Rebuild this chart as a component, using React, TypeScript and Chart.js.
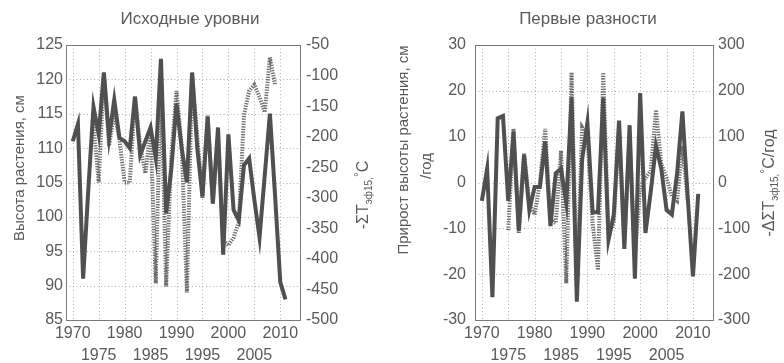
import React, { useEffect, useRef } from 'react';
import { Chart, registerables } from 'chart.js';

Chart.register(...registerables);

// ---- Data ----
const years = [
  1970, 1971, 1972, 1973, 1974, 1975, 1976, 1977, 1978, 1979,
  1980, 1981, 1982, 1983, 1984, 1985, 1986, 1987, 1988, 1989,
  1990, 1991, 1992, 1993, 1994, 1995, 1996, 1997, 1998, 1999,
  2000, 2001, 2002, 2003, 2004, 2005, 2006, 2007, 2008, 2009,
  2010, 2011,
];

// Исходные уровни: высота растения, см
const plantHeight = [
  111, 113.5, 91, 104, 116, 112, 121, 111.5, 117, 111.5,
  111, 110, 117.5, 109, 111, 113, 108.5, 123, 100.5, 107,
  116.5, 110, 105, 121, 110, 103, 114.5, 102, 113, 94.5,
  112, 101, 99.5, 107.5, 108.5, 102.5, 97, 106, 115, 103,
  90.5, 88,
];

// Исходные уровни: -ΣTэф15, °C
const sumTemp = [
  null, null, null, null, -180, -275, -96, -215, -160, -205,
  -275, -275, -135, -215, -260, -190, -440, -100, -445, -230,
  -125, -215, -455, -95, -200, -300, -165, -310, -200, -370,
  -378, -365, -340, -165, -125, -115, -135, -160, -70, -115,
  null, null,
];

// Первые разности: прирост высоты растения, см/год
const heightDiff = [
  -4, 3, -25, 14, 14.5, -4, 11, -10.5, 6, -6,
  -1, -1, 9, -9.5, 2, 3, -4.5, 18.5, -26, 5,
  13, -6.5, -6.5, 18.5, -12.5, -7, 13.5, -14.5, 12.5, -21,
  19.5, -11, -2, 8, 3, -6, -7, 2, 15.5, -3,
  -20.5, -2.5,
];

// Первые разности: -ΔΣTэф15, °C/год
const tempDiff = [
  null, null, null, null, null, -104, 117, -110, 64, -45,
  -70, 0, 117, -80, -89, 69, -220, 240, -230, 120,
  100, -90, -191, 240, -110, -90, 120, -130, 100, -160,
  -10, 10, 25, 158, 40, 10, -30, -40, 80, -40,
  null, null,
];

const xTickValues = [1970, 1975, 1980, 1985, 1990, 1995, 2000, 2005, 2010];
const leftTicksA = { min: 85, max: 125, step: 5 };
const rightTicksA = { min: -500, max: -50, step: 50 };
const leftTicksB = { min: -30, max: 30, step: 10 };
const rightTicksB = { min: -300, max: 300, step: 100 };

const TEXT = '#5a5a5a';
const FONT = '"Liberation Sans", Arial, sans-serif';

type Part = { t: string; size: number; dy?: number };

function drawRotated(ctx: CanvasRenderingContext2D, x: number, y: number, parts: Part[]) {
  ctx.save();
  ctx.translate(x, y);
  ctx.rotate(-Math.PI / 2);
  let total = 0;
  for (const p of parts) {
    ctx.font = `${p.size}px ${FONT}`;
    total += ctx.measureText(p.t).width;
  }
  let cx = -total / 2;
  ctx.textAlign = 'left';
  ctx.textBaseline = 'middle';
  for (const p of parts) {
    ctx.font = `${p.size}px ${FONT}`;
    ctx.fillText(p.t, cx, p.dy || 0);
    cx += ctx.measureText(p.t).width;
  }
  ctx.restore();
}

const decorPlugin = {
  id: 'decor',
  beforeDatasetsDraw(chart: any) {
    const { ctx, chartArea: a, scales } = chart;
    ctx.save();
    ctx.strokeStyle = '#b0b0b0';
    ctx.lineWidth = 1;
    ctx.setLineDash([1, 2.5]);
    for (const t of scales.x.ticks) {
      const px = Math.round(scales.x.getPixelForValue(t.value)) + 0.5;
      ctx.beginPath();
      ctx.moveTo(px, a.top);
      ctx.lineTo(px, a.bottom);
      ctx.stroke();
    }
    for (const t of scales.y.ticks) {
      const py = Math.round(scales.y.getPixelForValue(t.value)) + 0.5;
      ctx.beginPath();
      ctx.moveTo(a.left, py);
      ctx.lineTo(a.right, py);
      ctx.stroke();
    }
    ctx.restore();
  },
  afterDraw(chart: any, _args: any, opts: any) {
    const { ctx, chartArea: a } = chart;
    ctx.save();
    ctx.strokeStyle = '#7a7a7a';
    ctx.lineWidth = 1;
    ctx.strokeRect(Math.round(a.left) + 0.5, Math.round(a.top) + 0.5, Math.round(a.right - a.left), Math.round(a.bottom - a.top));
    ctx.fillStyle = TEXT;
    ctx.font = `17px ${FONT}`;
    ctx.textAlign = 'center';
    ctx.textBaseline = 'middle';
    ctx.fillText(opts.title, opts.titleX, opts.titleY);
    for (const r of opts.rotated) {
      drawRotated(ctx, r.x, r.y, r.parts);
    }
    ctx.restore();
  },
};

function makeConfig(
  solid: (number | null)[],
  dotted: (number | null)[],
  lt: { min: number; max: number; step: number },
  rt: { min: number; max: number; step: number },
  leftW: number,
  rightW: number,
  leftPad: number,
  rightPad: number,
  decor: any,
) {
  const tickFont = { family: FONT, size: 16 };
  return {
    type: 'line',
    data: {
      datasets: [
        {
          data: years.map((y, i) => ({ x: y, y: solid[i] })),
          borderColor: '#505050',
          borderWidth: 4,
          pointRadius: 0,
          tension: 0,
          yAxisID: 'y',
          spanGaps: false,
        },
        {
          data: years.map((y, i) => ({ x: y, y: dotted[i] })),
          borderColor: '#6e6e6e',
          borderWidth: 4,
          borderDash: [1.3, 1.3],
          pointRadius: 0,
          tension: 0,
          yAxisID: 'y2',
          spanGaps: false,
        },
      ],
    },
    options: {
      animation: false,
      responsive: false,
      maintainAspectRatio: false,
      layout: { padding: { top: 45, left: 0, right: 0, bottom: 0 } },
      plugins: {
        legend: { display: false },
        tooltip: { enabled: false },
        title: { display: false },
        decor,
      },
      scales: {
        x: {
          type: 'linear',
          min: 1968.7,
          max: 2013.8,
          afterBuildTicks: (s: any) => {
            s.ticks = xTickValues.map((v) => ({ value: v }));
          },
          afterFit: (s: any) => {
            s.height = 43;
          },
          ticks: {
            autoSkip: false,
            maxRotation: 0,
            minRotation: 0,
            padding: 2,
            color: TEXT,
            font: { ...tickFont, lineHeight: 1.4 },
            callback: (v: number) => (v % 10 === 0 ? String(v) : ['', String(v)]),
          },
          grid: { display: false, drawTicks: false },
          border: { display: false },
        },
        y: {
          position: 'left',
          min: lt.min,
          max: lt.max,
          afterFit: (s: any) => {
            s.width = leftW;
          },
          ticks: { stepSize: lt.step, color: TEXT, font: tickFont, padding: leftPad },
          grid: { display: false, drawTicks: false },
          border: { display: false },
        },
        y2: {
          position: 'right',
          min: rt.min,
          max: rt.max,
          afterFit: (s: any) => {
            s.width = rightW;
          },
          ticks: { stepSize: rt.step, color: TEXT, font: tickFont, padding: rightPad },
          grid: { display: false, drawTicks: false },
          border: { display: false },
        },
      },
    },
    plugins: [decorPlugin],
  } as any;
}

function Panel(props: { config: any; left: number }) {
  const ref = useRef<HTMLCanvasElement>(null);
  useEffect(() => {
    const chart = new Chart(ref.current as HTMLCanvasElement, props.config);
    return () => chart.destroy();
  }, []);
  return (
    <canvas
      ref={ref}
      width={392}
      height={363}
      style={{ position: 'absolute', left: props.left, top: 0, width: 392, height: 363 }}
    />
  );
}

export default function App() {
  const leftDecor = {
    title: 'Исходные уровни',
    titleX: 190,
    titleY: 19,
    rotated: [
      { x: 20, y: 168, parts: [{ t: 'Высота растения, см', size: 15 }] },
      {
        x: 364,
        y: 195,
        parts: [
          { t: '-ΣT', size: 16 },
          { t: 'эф15,', size: 10, dy: 5 },
          { t: '°', size: 12, dy: -4 },
          { t: 'C', size: 16 },
        ],
      },
    ],
  };
  const rightDecor = {
    title: 'Первые разности',
    titleX: 196,
    titleY: 19,
    rotated: [
      { x: 12, y: 150, parts: [{ t: 'Прирост высоты растения, см', size: 15 }] },
      { x: 35, y: 166, parts: [{ t: '/год', size: 15 }] },
      {
        x: 378,
        y: 183,
        parts: [
          { t: '-ΔΣT', size: 16 },
          { t: 'эф15,', size: 10, dy: 5 },
          { t: '°', size: 12, dy: -4 },
          { t: 'C/год', size: 16 },
        ],
      },
    ],
  };
  const cfgA = makeConfig(plantHeight, sumTemp, leftTicksA, rightTicksA, 66, 92, 3, 6, leftDecor);
  const cfgB = makeConfig(heightDiff, tempDiff, leftTicksB, rightTicksB, 83, 71, 9, 5, rightDecor);
  return (
    <div style={{ position: 'fixed', left: 0, top: 0, width: 784, height: 363, background: '#fff' }}>
      <Panel config={cfgA} left={0} />
      <Panel config={cfgB} left={392} />
    </div>
  );
}
